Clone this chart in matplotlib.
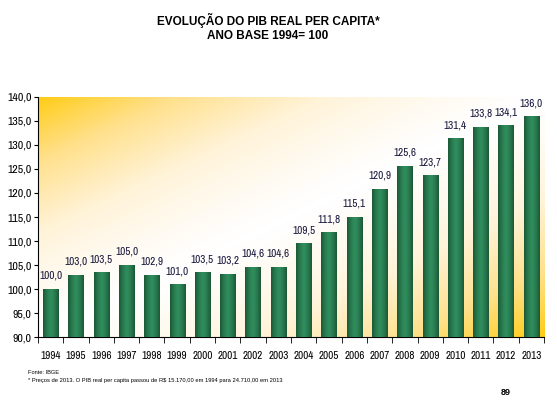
import numpy as np
import matplotlib
matplotlib.use('Agg')
from matplotlib import pyplot as plt
from matplotlib.colors import LinearSegmentedColormap

plt.rcParams['font.family'] = ['Archivo Narrow', 'Liberation Sans', 'DejaVu Sans']

years = ['1994', '1995', '1996', '1997', '1998', '1999', '2000', '2001', '2002', '2003',
         '2004', '2005', '2006', '2007', '2008', '2009', '2010', '2011', '2012', '2013']
values = [100.0, 103.0, 103.5, 105.0, 102.9, 101.0, 103.5, 103.2, 104.6, 104.6,
          109.5, 111.8, 115.1, 120.9, 125.6, 123.7, 131.4, 133.8, 134.1, 136.0]
y_ticks = np.arange(90, 141, 5)

title = 'EVOLUÇÃO DO PIB REAL PER CAPITA*\nANO BASE 1994= 100'
source = 'Fonte: IBGE'
note = '* Preços de 2013. O PIB real per capita passou de R$ 15.170,00 em 1994 para 24.710,00 em 2013'
plain = ['Liberation Sans', 'DejaVu Sans']


def fmt(v):
    return '{:.1f}'.format(v).replace('.', ',')


fig = plt.figure(figsize=(5.57, 4.19), dpi=100)
ax = fig.add_axes([0.0682, 0.1957, 0.9085, 0.5728])

# background: gold in two corners, white along the other diagonal
gx, gy = np.meshgrid(np.linspace(0, 1, 300), np.linspace(1, 0, 300))
d = np.abs(gy - gx) ** 1.3
bg_cmap = LinearSegmentedColormap.from_list('bg', ['#ffffff', '#fff3d8', '#ffe08a', '#ffcc14'])
ax.imshow(d, cmap=bg_cmap, extent=[0, 1, 0, 1], transform=ax.transAxes,
          aspect='auto', zorder=0, vmin=0, vmax=1)

x = np.arange(len(years))
bars = ax.bar(x, values, width=0.6, color='#23704a', zorder=2)

# cylinder shading on each bar
shade = np.abs(np.linspace(-1, 1, 64)) ** 1.5
shade = shade.reshape(1, -1)
bar_cmap = LinearSegmentedColormap.from_list('bar', ['#2f8c5c', '#1b5736'])
for b in bars:
    im = ax.imshow(shade, cmap=bar_cmap, aspect='auto', zorder=3,
                   extent=[b.get_x(), b.get_x() + b.get_width(), 90, b.get_height()])
    im.set_clip_path(b)

for xi, v in zip(x, values):
    ax.text(xi, v + 1.7, fmt(v), ha='center', va='bottom', fontsize=8, color='#15153a')

ax.set_xlim(-0.5, len(years) - 0.5)
ax.set_ylim(90, 140)
ax.set_yticks(y_ticks)
ax.set_yticklabels([fmt(t) for t in y_ticks], fontsize=8.5)
ax.set_xticks(x)
ax.set_xticklabels(years, fontsize=8)
ax.set_xticks(np.arange(-0.5, len(years)), minor=True)
ax.tick_params(axis='x', which='major', length=0, pad=10)
ax.tick_params(axis='x', which='minor', length=4, direction='out')
ax.tick_params(axis='y', length=3, direction='out', pad=1.5)
for s in ['top', 'right']:
    ax.spines[s].set_visible(False)
ax.set_aspect('auto')

fig.text(0.481, 0.935, title, ha='center', va='center', fontsize=8.5,
         fontweight='bold', family=plain, linespacing=1.25)
fig.text(0.05, 0.108, source, fontsize=4.1, family=plain)
fig.text(0.05, 0.088, note, fontsize=4.15, family=plain)
fig.text(0.917, 0.058, '89', ha='right', fontsize=6.5, fontweight='bold', family=plain)

fig.savefig('out.png', dpi=100)
